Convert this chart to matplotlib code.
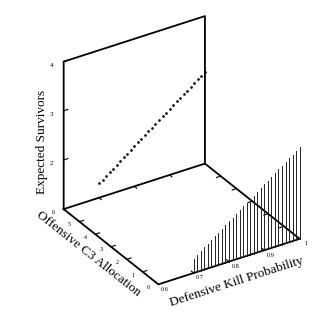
import numpy as np
import matplotlib
matplotlib.use("Agg")
import matplotlib.pyplot as plt
from mpl_toolkits.mplot3d import proj3d

plt.rcParams['font.family'] = ['Liberation Serif', 'DejaVu Serif']

# data
kill_prob = [0.70, 0.71, 0.72, 0.73, 0.74, 0.75, 0.76, 0.77, 0.78, 0.79, 0.80,
             0.81, 0.82, 0.83, 0.84, 0.85, 0.86, 0.87, 0.88, 0.89, 0.90,
             0.91, 0.92, 0.93, 0.94, 0.95, 0.96, 0.97, 0.98, 0.99, 1.00]
survivors = [1.29, 1.34, 1.40, 1.45, 1.50, 1.55, 1.61, 1.66, 1.71, 1.76, 1.82,
             1.87, 1.92, 1.97, 2.03, 2.08, 2.13, 2.18, 2.24, 2.29, 2.34,
             2.39, 2.45, 2.50, 2.55, 2.60, 2.66, 2.71, 2.76, 2.81, 2.87]

kill_ticks = [0.6, 0.7, 0.8, 0.9, 1.0]
kill_labels = ["0.6", "0.7", "0.8", "0.9", "1"]
c3_ticks = [0, 1, 2, 3, 4, 5, 6]
c3_labels = ["0", "1", "2", "3", "4", "5", "6"]
surv_ticks = [2, 3, 4]
surv_labels = ["2", "3", "4"]

xlo, xhi = 0.6, 1.0
ylo, yhi = 0, 6
zlo, zhi = 1, 4

fig = plt.figure(figsize=(3.25, 3.12), dpi=100)
ax = fig.add_axes([0.046, 0.005, 1, 1], projection='3d', proj_type='ortho')
ax.view_init(elev=30.4, azim=-122.5)
ax.set_box_aspect((0.95, 1.0, 0.97), zoom=0.925)
ax.set_xlim(xlo, xhi)
ax.set_ylim(ylo, yhi)
ax.set_zlim(zlo, zhi)
ax.set_axis_off()

k = dict(color='black', lw=1.3)
# floor outline
ax.plot([xlo, xhi, xhi, xlo, xlo], [yhi, yhi, ylo, ylo, yhi], [zlo] * 5, **k)
# back wall
ax.plot([xlo, xlo, xhi, xhi], [yhi] * 4, [zlo, zhi, zhi, zlo], **k)

# tick marks
t = dict(color='black', lw=0.8)
for c in c3_ticks[1:-1]:
    ax.plot([xlo, xlo + 0.012], [c, c], [zlo, zlo], **t)
    ax.plot([xhi, xhi - 0.012], [c, c], [zlo, zlo], **t)
for p in kill_ticks[1:-1]:
    ax.plot([p, p], [yhi, yhi - 0.15], [zlo, zlo], **t)
    ax.plot([p, p], [ylo, ylo + 0.15], [zlo, zlo], **t)
for s in surv_ticks:
    ax.plot([xlo, xlo + 0.012], [yhi, yhi], [s, s], **t)

# vertical lines at the front
for p, s in zip(kill_prob, survivors):
    ax.plot([p, p], [ylo, ylo], [zlo, s], color='#222222', lw=0.7)

# dotted curve on the back wall
ax.plot(kill_prob, [yhi] * len(kill_prob), survivors, ls='none',
        marker='o', ms=0.9, color='black')

# texts are placed as plain 2D text at projected positions
fig.canvas.draw()
M = ax.get_proj()


def put(x, y, z, s, along=None, **kw):
    x2, y2, _ = proj3d.proj_transform(x, y, z, M)
    ang = 0
    if along is not None:
        x3, y3, _ = proj3d.proj_transform(x + along[0], y + along[1], z + along[2], M)
        p = ax.transData.transform([(x2, y2), (x3, y3)])
        ang = np.degrees(np.arctan2(p[1, 1] - p[0, 1], p[1, 0] - p[0, 0]))
    ax.text2D(x2, y2, s, transform=ax.transData, rotation=ang,
              rotation_mode='anchor', ha='center', va='center', **kw)


# tick labels
for p, lab in zip(kill_ticks, kill_labels):
    put(p, ylo - 0.4, zlo, lab, fontsize=4.5)
for c, lab in zip(c3_ticks, c3_labels):
    put(xlo - 0.028, c, zlo, lab, fontsize=4.5)
for s, lab in zip(surv_ticks, surv_labels):
    put(xlo - 0.035, yhi, s, lab, fontsize=5)

# axis titles
put(xlo - 0.065, 3, zlo, "Offensive C3 Allocation", along=(0, -1, 0), fontsize=9.5)
put(0.8, ylo - 0.5, zlo - 0.28, "Defensive Kill Probability", along=(0.1, 0, 0),
    fontsize=9.5)
put(xlo - 0.062, yhi, 2.5, "Expected Survivors", along=(0, 0, 1), fontsize=9.5)

plt.savefig("out.png", dpi=100)
